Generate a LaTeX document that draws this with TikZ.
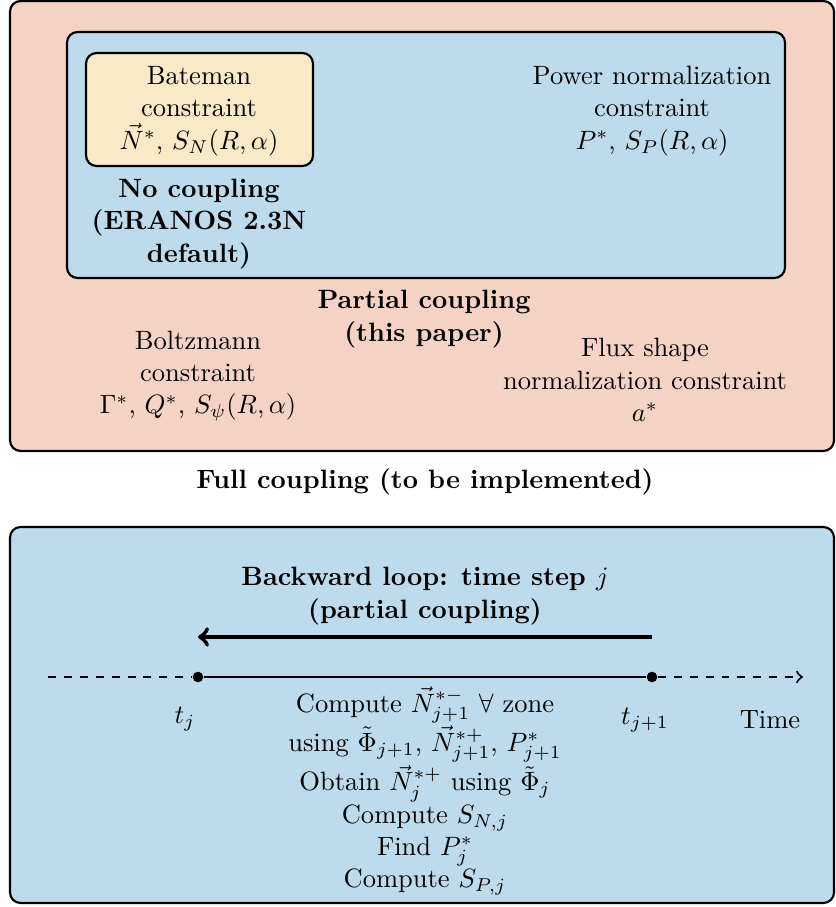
\documentclass[tikz,border=0pt]{standalone}
\usetikzlibrary{fit}
\definecolor{salmon}{RGB}{245,211,196}
\definecolor{skyblue}{RGB}{190,219,237}
\definecolor{sand}{RGB}{249,233,198}
% line spacing inside multi-line labels
\newcommand\labelfont{\fontsize{10}{12.2}\selectfont}
\begin{document}
\begin{tikzpicture}[x=0.377pt,y=-0.377pt,
  box/.style={draw, thick, rounded corners=4pt, inner sep=0pt},
  txt/.style={align=center, inner sep=0pt, font=\labelfont},
  ttl/.style={align=center, inner sep=0pt, font=\labelfont\bfseries},
  dot/.style={circle, fill, inner sep=0pt, minimum size=4pt}]
\useasboundingbox (0,0) rectangle (835,907);

% nested coupling levels
\node[box, fill=salmon,  fit={(10,1) (834,451)}]   (full) {};
\node[box, fill=skyblue, fit={(67,32) (785,278)}]  (partial) {};
\node[box, fill=sand,    fit={(86,53) (313,166)}]  (none) {};

\node[txt] (bateman) at (199,111) {Bateman\\constraint\\$\vec{N}^*$, $S_N(R,\alpha)$};
\node[ttl] (nolbl) at (199,224) {No coupling\\(ERANOS 2.3N\\default)};
\node[txt] (power) at (652,111) {Power normalization\\constraint\\$P^*$, $S_P(R,\alpha)$};
\node[ttl] (partlbl) at (424,319) {Partial coupling\\(this paper)};
\node[txt] (boltz) at (198,376) {Boltzmann\\constraint\\$\Gamma^*$, $Q^*$, $S_\psi(R,\alpha)$};
\node[txt] (flux) at (645,380) {Flux shape\\normalization constraint\\$a^*$};
\node[ttl] (fulllbl) at (425,482) {Full coupling (to be implemented)};

% backward time step
\node[box, fill=skyblue, fit={(10,527) (834,903)}] (loop) {};
\node[ttl] (looplbl) at (425,596) {Backward loop: time step $j$\\(partial coupling)};

\coordinate (arrS) at (652,637);
\coordinate (arrE) at (198,637);
\draw[ultra thick, ->] (arrS) -- (arrE);

\coordinate (axL) at (48,677);
\coordinate (axR) at (803,677);
\node[dot] (dj)  at (198,677) {};
\node[dot] (dj1) at (652,677) {};
\draw[thick, dashed] (axL) -- (dj);
\draw[thick] (dj) -- (dj1);
\draw[thick, dashed, ->] (dj1) -- (axR);

\node[txt] (tj)   at (185,719) {$t_j$};
\node[txt] (tj1)  at (645,720) {$t_{j+1}$};
\node[txt] (time) at (770,720) {Time};

\node[txt, anchor=north] (steps) at (425,686) {Compute $\vec{N}^{*-}_{j+1}$ $\forall$ zone\\
  using $\tilde{\Phi}_{j+1}$, $\vec{N}^{*+}_{j+1}$, $P^*_{j+1}$\\
  Obtain $\vec{N}^{*+}_j$ using $\tilde{\Phi}_j$\\
  Compute $S_{N,j}$\\
  Find $P^*_j$\\
  Compute $S_{P,j}$};
\end{tikzpicture}
\end{document}
